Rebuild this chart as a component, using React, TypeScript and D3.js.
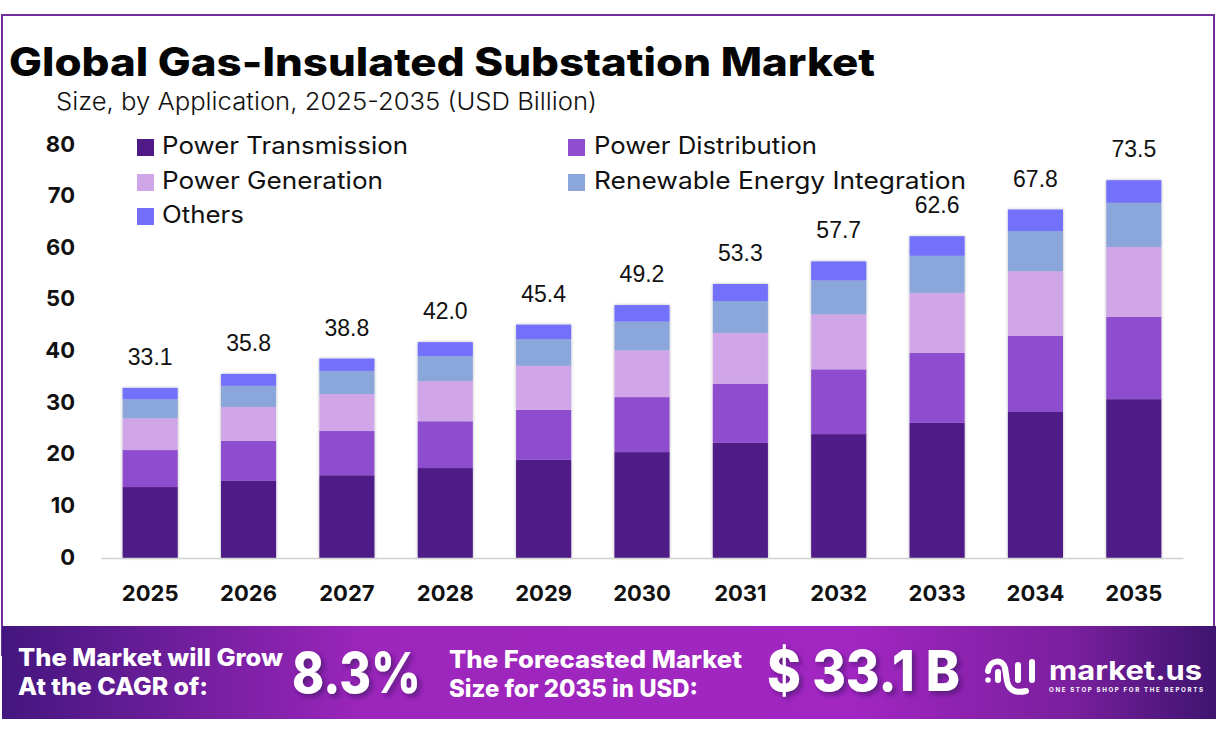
import * as d3 from 'd3'
import { useEffect, useRef } from 'react'

const years = ['2025', '2026', '2027', '2028', '2029', '2030', '2031', '2032', '2033', '2034', '2035']
const segments = ['Power Transmission', 'Power Distribution', 'Power Generation', 'Renewable Energy Integration', 'Others']
const segmentColors = ['#4f1a87', '#8e4ecf', '#d1a6e8', '#8ba6da', '#736ffb']

const powerTransmission = [13.8, 15.0, 16.1, 17.5, 19.1, 20.6, 22.4, 24.1, 26.3, 28.4, 30.9]
const powerDistribution = [7.2, 7.8, 8.6, 9.1, 9.7, 10.7, 11.5, 12.6, 13.6, 14.8, 16.0]
const powerGeneration = [6.2, 6.6, 7.2, 7.8, 8.6, 9.1, 9.9, 10.7, 11.7, 12.6, 13.6]
const renewableIntegration = [3.7, 4.1, 4.5, 4.9, 5.2, 5.6, 6.2, 6.6, 7.2, 7.8, 8.6]
const others = [2.2, 2.3, 2.4, 2.7, 2.8, 3.2, 3.3, 3.7, 3.8, 4.2, 4.4]
const totals = [33.1, 35.8, 38.8, 42.0, 45.4, 49.2, 53.3, 57.7, 62.6, 67.8, 73.5]
const yTicks = [0, 10, 20, 30, 40, 50, 60, 70, 80]

const seriesValues = [powerTransmission, powerDistribution, powerGeneration, renewableIntegration, others]

const sans = 'Inter, sans-serif'

export default function App() {
  const ref = useRef<SVGSVGElement | null>(null)

  useEffect(() => {
    const width = 1216
    const height = 739
    const baseY = 558
    const plotLeft = 101
    const plotRight = 1183

    const svg = d3.select(ref.current!)
    svg.selectAll('*').remove()

    const defs = svg.append('defs')
    const grad = defs.append('linearGradient').attr('id', 'banner')
    grad.append('stop').attr('offset', '0').attr('stop-color', '#44167f')
    grad.append('stop').attr('offset', '0.3').attr('stop-color', '#9c26bb')
    grad.append('stop').attr('offset', '0.7').attr('stop-color', '#a226c2')
    grad.append('stop').attr('offset', '0.88').attr('stop-color', '#7a1f9e')
    grad.append('stop').attr('offset', '1').attr('stop-color', '#3e1470')

    const barShadow = defs.append('filter').attr('id', 'barShadow').attr('x', '-20%').attr('width', '140%')
    barShadow.append('feDropShadow').attr('dx', 0).attr('dy', 0).attr('stdDeviation', 1.5).attr('flood-color', '#000').attr('flood-opacity', 0.3)
    const textShadow = defs.append('filter').attr('id', 'textShadow').attr('x', '-10%').attr('width', '120%').attr('y', '-20%').attr('height', '140%')
    textShadow.append('feDropShadow').attr('dx', 3).attr('dy', 3).attr('stdDeviation', 2.5).attr('flood-color', '#2a0a50').attr('flood-opacity', 0.55)

    // frame
    svg.append('rect').attr('x', 2).attr('y', 15).attr('width', 1212).attr('height', 640)
      .attr('fill', '#fff').attr('stroke', '#70309a').attr('stroke-width', 2)

    const label = (
      text: string, x: number, y: number, size: number, weight: number, fitWidth: number, fill = '#000'
    ) =>
      svg.append('text').attr('x', x).attr('y', y).attr('font-family', sans)
        .attr('font-size', size).attr('font-weight', weight).attr('fill', fill)
        .attr('textLength', fitWidth).attr('lengthAdjust', 'spacingAndGlyphs').text(text)

    label('Global Gas-Insulated Substation Market', 9, 76, 39, 800, 866, '#050505')
    label('Size, by Application, 2025-2035 (USD Billion)', 56, 110, 24, 300, 541, '#111')

    const x = d3.scaleBand<string>().domain(years).range([plotLeft, plotRight]).paddingInner(0.44).paddingOuter(0.22)
    const y = d3.scaleLinear().domain([0, 80]).range([baseY, baseY - 80 * 5.14])
    // tick labels sit on a very slightly different pitch than the bars
    const yLabels = d3.scaleLinear().domain([0, 80]).range([557, 144])

    const rows = years.map((year, i) => {
      const row: Record<string, number | string> = { year }
      segments.forEach((s, j) => (row[s] = seriesValues[j][i]))
      return row
    })
    const series = d3.stack<Record<string, number | string>>().keys(segments)(rows)
    const color = d3.scaleOrdinal<string>().domain(segments).range(segmentColors)

    // bars
    svg.append('g').attr('filter', 'url(#barShadow)')
      .selectAll('g').data(series).join('g')
      .attr('fill', (d) => color(d.key))
      .selectAll('rect').data((d) => d).join('rect')
      .attr('x', (d) => x(d.data.year as string)!)
      .attr('y', (d) => y(d[1]))
      .attr('width', x.bandwidth())
      .attr('height', (d) => y(d[0]) - y(d[1]))

    // totals
    svg.append('g').selectAll('text').data(totals).join('text')
      .attr('x', (_, i) => x(years[i])! + x.bandwidth() / 2)
      .attr('y', (d) => y(d) - 23)
      .attr('text-anchor', 'middle')
      .attr('font-family', 'Liberation Sans, Arial, sans-serif')
      .attr('font-size', 23).attr('fill', '#111')
      .text((d) => d.toFixed(1))

    // axes
    const xAxis = svg.append('g').attr('transform', `translate(0,${baseY})`)
      .call(d3.axisBottom(x).tickSize(0).tickPadding(27))
    xAxis.select('.domain').attr('stroke', '#d0d0d0').attr('stroke-width', 1.5)
    xAxis.selectAll('text').attr('font-family', sans).attr('font-size', 22).attr('font-weight', 700).attr('fill', '#111')

    const yAxis = svg.append('g').attr('transform', 'translate(75,0)')
      .call(d3.axisLeft(yLabels).tickValues(yTicks).tickSize(0).tickPadding(0))
    yAxis.select('.domain').remove()
    yAxis.selectAll('text').attr('font-family', sans).attr('font-size', 22).attr('font-weight', 700).attr('fill', '#111')

    // legend
    const legendX = [137, 568, 137, 568, 137]
    const legendY = [146, 146, 181, 181, 215]
    const legendWidths = [246, 223, 221, 372, 82]
    segments.forEach((s, i) => {
      svg.append('rect').attr('x', legendX[i]).attr('y', legendY[i] - 7).attr('width', 17).attr('height', 17).attr('fill', segmentColors[i])
      label(s, legendX[i] + 25 + (i % 2 ? 1 : 0), legendY[i] + 8, 24, 400, legendWidths[i], '#111')
    })

    // banner
    svg.append('rect').attr('x', 2).attr('y', 626).attr('width', width - 2).attr('height', 93).attr('fill', 'url(#banner)')
    svg.append('rect').attr('x', 0).attr('y', 719).attr('width', width).attr('height', height - 719).attr('fill', '#fff')

    label('The Market will Grow', 18, 666, 24, 800, 265, '#fff')
    label('At the CAGR of:', 18, 695, 24, 800, 190, '#fff')
    label('8.3%', 292, 693, 56, 800, 129, '#fff').attr('filter', 'url(#textShadow)')
    label('The Forecasted Market', 449, 668, 24, 800, 293, '#fff')
    label('Size for 2035 in USD:', 449, 697, 24, 800, 249, '#fff')
    label('$ 33.1 B', 767, 691, 56, 800, 193, '#fff').attr('filter', 'url(#textShadow)')

    // logo
    const logo = svg.append('g').attr('fill', 'none').attr('stroke', '#fff').attr('stroke-width', 6).attr('stroke-linecap', 'round')
    logo.append('path').attr('d', 'M988,671 C990,659 1003,659 1005,668 L1007,681 C1009,692 1018,693 1026,691')
    logo.append('path').attr('d', 'M998,672 L998,680')
    logo.append('path').attr('d', 'M1018,665 L1018,680')
    logo.append('path').attr('d', 'M1032,662 L1032,680')
    logo.append('circle').attr('cx', 988).attr('cy', 680).attr('r', 2).attr('fill', '#fff').attr('stroke-width', 1.5)

    label('market.us', 1049, 679.5, 26, 700, 153, '#fff')
    label('ONE STOP SHOP FOR THE REPORTS', 1049, 691.5, 6.2, 700, 154, '#fff').attr('lengthAdjust', 'spacing')
  }, [])

  return (
    <svg
      ref={ref}
      width={1216}
      height={739}
      viewBox="0 0 1216 739"
      style={{ position: 'absolute', left: 0, top: 0, background: '#fff' }}
    />
  )
}
